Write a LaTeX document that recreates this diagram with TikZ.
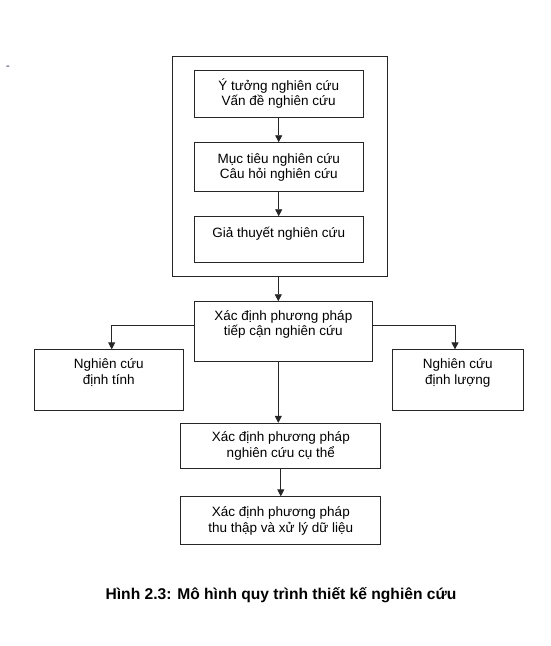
\documentclass[tikz,border=0pt]{standalone}
\usepackage{fontspec}
\setmainfont{Liberation Sans}
\usepackage{tikz}
\usetikzlibrary{arrows.meta,calc}
\newcommand{\clrline}{black!85}
\definecolor{dashgray}{RGB}{112,112,140}

\begin{document}
\begin{tikzpicture}[x=1pt, y=-1pt,
    box/.style = {draw=\clrline, line width=0.9pt, align=center, inner sep=0pt,
                  font=\fontsize{13.5}{15.5}\selectfont},
    arr/.style = {draw=\clrline, line width=0.9pt, -{Triangle[width=7pt,length=7pt]}}]
    \useasboundingbox (0,0) rectangle (550,646);

    % outer frame and the three boxes in it
    \node[box, minimum width=215, minimum height=220] (frame) at (280.3,166.7) {};
    \node[box, minimum width=169, minimum height=47] (idea) at (278.7,93.7)
        {Ý tưởng nghiên cứu\\Vấn đề nghiên cứu};
    \node[box, minimum width=169, minimum height=49] (goal) at (278.7,167.2)
        {Mục tiêu nghiên cứu\\Câu hỏi nghiên cứu};
    \node[box, minimum width=169, minimum height=46] (hyp) at (278.7,239.7)
        {Giả thuyết nghiên cứu\\\mbox{}};

    % approach and its branches
    \node[box, minimum width=178, minimum height=60] (approach) at (283.3,331.7)
        {Xác định phương pháp\\tiếp cận nghiên cứu\\[2pt]\mbox{}};
    \node[box, minimum width=149, minimum height=61] (qual) at (108.7,380.3)
        {Nghiên cứu\\định tính\\[2pt]\mbox{}};
    \node[box, minimum width=131, minimum height=61] (quant) at (457.8,380.3)
        {Nghiên cứu\\định lượng\\[2pt]\mbox{}};
    \node[box, minimum width=200, minimum height=45] (specific) at (280.8,445.8)
        {Xác định phương pháp\\nghiên cứu cụ thể};
    \node[box, minimum width=200, minimum height=48] (collect) at (280.8,520.8)
        {Xác định phương pháp\\thu thập và xử lý dữ liệu};

    \foreach \a/\b in {idea/goal, goal/hyp, specific/collect} {
        \draw[arr] (\a) -- (\b);
    }
    \draw[arr] (frame.south -| 278.3,0) -- (approach.north -| 278.3,0);
    \draw[arr] ([yshift=6.7pt]approach.west) -| ([xshift=3pt]qual.north);
    \draw[arr] ([yshift=6.7pt]approach.east) -| ([xshift=-2.8pt]quant.north);
    \draw[arr] (approach.south -| 278.3,0) -- (specific.north -| 278.3,0);

    \node[font=\fontsize{15.6}{17}\selectfont\bfseries] (caption) at (281,595)
        {Hình 2.3: Mô hình quy trình thiết kế nghiên cứu};
    \node[font=\fontsize{11}{11}\selectfont\bfseries, text=dashgray, inner sep=0pt] (dash) at (8,67.5) {-};
\end{tikzpicture}
\end{document}
